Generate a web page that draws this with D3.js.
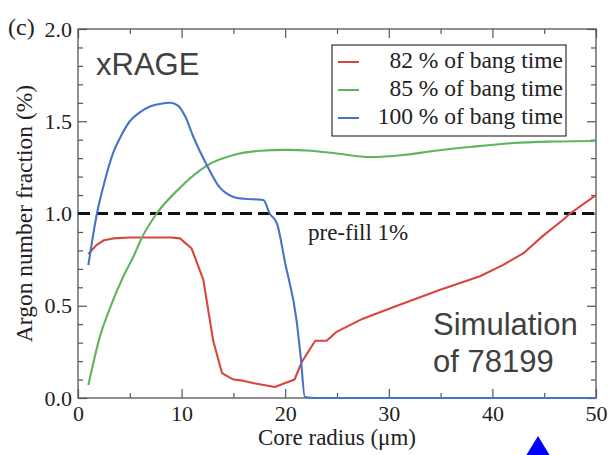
<!DOCTYPE html>
<html>
<head>
<meta charset="utf-8">
<script src="https://cdn.jsdelivr.net/npm/d3@7/dist/d3.min.js"></script>
<style>
  html, body { margin: 0; padding: 0; background: #fff; }
  svg { display: block; }
</style>
</head>
<body>
<svg id="chart" width="615" height="455"></svg>
<script>
// ---- Data ----
const seriesNames = ["82 % of bang time", "85 % of bang time", "100 % of bang time"];
const seriesColors = ["#d8453f", "#5fb45f", "#4872c8"];

const x82 = [1, 1.8, 2.5, 3.4, 5, 7, 9, 9.85, 10.97, 12.1, 13.05, 13.9, 15, 15.9, 17, 19, 20.9, 21.6, 22.9, 24, 25, 27.5, 30.8, 34.9, 38.8, 41, 43, 44.9, 46.8, 47.5, 50];
const y82 = [0.78, 0.83, 0.855, 0.865, 0.87, 0.87, 0.87, 0.865, 0.81, 0.64, 0.31, 0.135, 0.10, 0.094, 0.08, 0.06, 0.10, 0.195, 0.31, 0.31, 0.36, 0.43, 0.50, 0.585, 0.66, 0.72, 0.785, 0.88, 0.965, 1.0, 1.10];

const x85 = [1, 2.1, 3.1, 4.35, 5.3, 6.15, 7.6, 9.85, 11.8, 12.45, 15, 17.6, 20, 22.5, 25, 28.2, 31.4, 34.5, 37.8, 42, 46, 50];
const y85 = [0.07, 0.33, 0.49, 0.656, 0.76, 0.867, 1.0, 1.14, 1.235, 1.26, 1.317, 1.34, 1.345, 1.34, 1.325, 1.306, 1.317, 1.34, 1.36, 1.382, 1.39, 1.393];

const x100 = [1, 1.83, 2.6, 3.4, 4.1, 5, 6, 6.95, 8, 8.9, 9.65, 10.4, 11.13, 12.45, 13.7, 14.3, 15, 16, 17.6, 17.9, 18.5, 19.2, 20, 21.1, 21.5, 21.9, 23, 50];
const y100 = [0.72, 1.0, 1.18, 1.33, 1.415, 1.5, 1.55, 1.58, 1.595, 1.6, 1.585, 1.52, 1.416, 1.26, 1.14, 1.11, 1.09, 1.08, 1.075, 1.073, 1.0, 0.947, 0.73, 0.42, 0.22, 0.005, 0.0, 0.0];

const prefillValue = 1.0;
const xMajorTicks = [0, 10, 20, 30, 40, 50];
const xMinorTicks = [5, 15, 25, 35, 45];
const yMajorTicks = [0, 0.5, 1.0, 1.5, 2.0];
const yMinorTicks = [0.1,0.2,0.3,0.4,0.6,0.7,0.8,0.9,1.1,1.2,1.3,1.4,1.6,1.7,1.8,1.9];

// ---- Layout ----
const svg = d3.select("#chart");
const L = 78, R = 596, T = 29, B = 398;
const x = d3.scaleLinear().domain([0, 50]).range([L, R]);
const y = d3.scaleLinear().domain([0, 2.0]).range([B, T]);

const serif = "'Liberation Serif', 'Times New Roman', serif";
const sans = "'Liberation Sans', Arial, sans-serif";
const axisColor = "#555";

function styleAxis(g, labels) {
  g.select(".domain").remove();
  g.selectAll(".tick line").attr("stroke", axisColor).attr("stroke-width", 1.2);
  g.selectAll(".tick text").attr("font-family", serif).attr("font-size", 22).attr("fill", "#222");
  if (!labels) g.selectAll(".tick text").remove();
}
svg.append("g").attr("transform", `translate(0,${B})`)
  .call(d3.axisBottom(x).tickValues(xMajorTicks).tickSize(-9).tickSizeOuter(0).tickPadding(7).tickFormat(d3.format("d")))
  .call(g => styleAxis(g, true));
svg.append("g").attr("transform", `translate(0,${B})`)
  .call(d3.axisBottom(x).tickValues(xMinorTicks).tickSize(-5).tickSizeOuter(0))
  .call(g => styleAxis(g, false));
svg.append("g").attr("transform", `translate(0,${T})`)
  .call(d3.axisTop(x).tickValues(xMajorTicks).tickSize(-9).tickSizeOuter(0))
  .call(g => styleAxis(g, false));
svg.append("g").attr("transform", `translate(0,${T})`)
  .call(d3.axisTop(x).tickValues(xMinorTicks).tickSize(-5).tickSizeOuter(0))
  .call(g => styleAxis(g, false));

svg.append("g").attr("transform", `translate(${L},0)`)
  .call(d3.axisLeft(y).tickValues(yMajorTicks).tickSize(-9).tickSizeOuter(0).tickPadding(6).tickFormat(d3.format(".1f")))
  .call(g => styleAxis(g, true));
svg.append("g").attr("transform", `translate(${L},0)`)
  .call(d3.axisLeft(y).tickValues(yMinorTicks).tickSize(-5).tickSizeOuter(0))
  .call(g => styleAxis(g, false));
svg.append("g").attr("transform", `translate(${R},0)`)
  .call(d3.axisRight(y).tickValues(yMajorTicks).tickSize(-9).tickSizeOuter(0))
  .call(g => styleAxis(g, false));
svg.append("g").attr("transform", `translate(${R},0)`)
  .call(d3.axisRight(y).tickValues(yMinorTicks).tickSize(-5).tickSizeOuter(0))
  .call(g => styleAxis(g, false));

// Frame
svg.append("rect").attr("x", L).attr("y", T).attr("width", R - L).attr("height", B - T)
  .attr("fill", "none").attr("stroke", axisColor).attr("stroke-width", 1.3);

// Pre-fill dashed line
svg.append("line").attr("x1", x(0)).attr("x2", x(50)).attr("y1", y(prefillValue)).attr("y2", y(prefillValue))
  .attr("stroke", "#111").attr("stroke-width", 2.8).attr("stroke-dasharray", "12,6");
svg.append("text").attr("x", 308).attr("y", 240).attr("font-family", serif).attr("font-size", 23)
  .attr("fill", "#222").text("pre-fill 1%");

// Curves
const series = [
  { xs: x82, ys: y82, curve: d3.curveLinear },
  { xs: x85, ys: y85, curve: d3.curveMonotoneX },
  { xs: x100, ys: y100, curve: d3.curveMonotoneX }
];
series.forEach((s, i) => {
  const pts = s.xs.map((v, k) => [v, s.ys[k]]);
  const line = d3.line().x(d => x(d[0])).y(d => y(d[1])).curve(s.curve);
  svg.append("path").attr("d", line(pts)).attr("fill", "none")
    .attr("stroke", seriesColors[i]).attr("stroke-width", 2.1)
    .attr("stroke-linejoin", "round");
});

// Legend
const lg = svg.append("g");
lg.append("rect").attr("x", 332).attr("y", 45).attr("width", 234).attr("height", 91)
  .attr("fill", "#fff").attr("stroke", "#333").attr("stroke-width", 1.2);
seriesNames.forEach((name, i) => {
  const yy = 62 + i * 28;
  lg.append("line").attr("x1", 338).attr("x2", 359).attr("y1", yy).attr("y2", yy)
    .attr("stroke", seriesColors[i]).attr("stroke-width", 2);
  lg.append("text").attr("x", 563).attr("y", yy + 6).attr("text-anchor", "end")
    .attr("font-family", serif).attr("font-size", 23.5).attr("fill", "#222").text(name);
});

// Axis titles
svg.append("text").attr("x", (L + R) / 2).attr("y", 445).attr("text-anchor", "middle")
  .attr("font-family", serif).attr("font-size", 23).attr("fill", "#222").text("Core radius (\u03bcm)");
svg.append("text").attr("transform", `translate(32,${(T + B) / 2}) rotate(-90)`).attr("text-anchor", "middle")
  .attr("font-family", serif).attr("font-size", 23.5).attr("fill", "#222").text("Argon number fraction (%)");

// Panel label and annotations
svg.append("text").attr("x", 8).attr("y", 35).attr("font-family", serif).attr("font-size", 24)
  .attr("fill", "#222").text("(c)");
svg.append("text").attr("x", 96).attr("y", 75).attr("font-family", sans).attr("font-size", 31)
  .attr("fill", "#404040").text("xRAGE");
svg.append("text").attr("x", 433).attr("y", 335).attr("font-family", sans).attr("font-size", 31)
  .attr("fill", "#404040").text("Simulation");
svg.append("text").attr("x", 433).attr("y", 372).attr("font-family", sans).attr("font-size", 31)
  .attr("fill", "#404040").text("of 78199");

// Blue triangle marker at bottom right
svg.append("path").attr("d", "M538,436 L524,459 L552,459 Z").attr("fill", "#0000ff");
</script>
</body>
</html>
